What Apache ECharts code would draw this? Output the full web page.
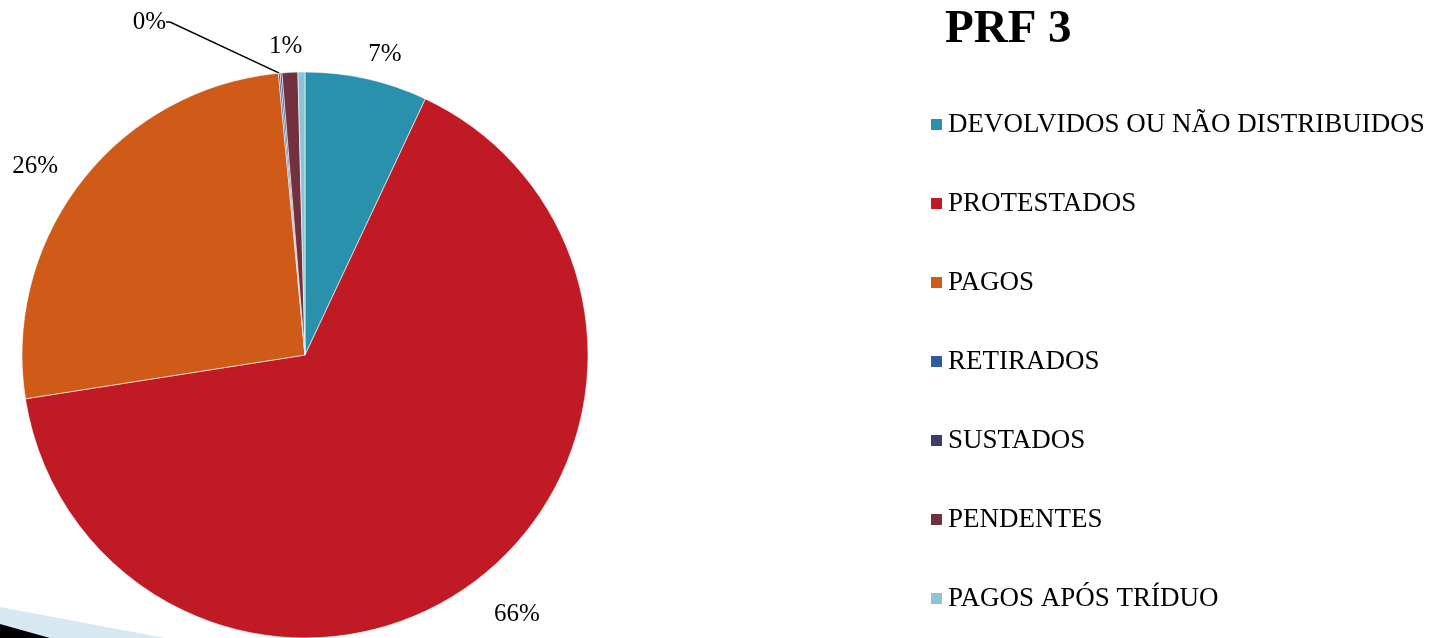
<!DOCTYPE html>
<html>
<head>
<meta charset="utf-8">
<script src="https://cdn.jsdelivr.net/npm/echarts@6/dist/echarts.min.js"></script>
<style>
html,body{margin:0;padding:0;background:#fff;}
#chart{width:1439px;height:638px;}
</style>
</head>
<body>
<div id="chart"></div>
<script>
// categories and shares (%)
var categories = ['DEVOLVIDOS OU NÃO DISTRIBUIDOS', 'PROTESTADOS', 'PAGOS', 'RETIRADOS', 'SUSTADOS', 'PENDENTES', 'PAGOS APÓS TRÍDUO'];
var shares = [7.0, 65.6, 26.0, 0.1, 0.1, 0.9, 0.4];
var colors = ['#2A91AC', '#C01A24', '#D05A17', '#2F5C9C', '#3A3D6A', '#71313F', '#8EC2D6'];
// which slices carry a label in the original
var showLabel = [true, true, true, true, false, true, false];
// small nudges so the labels sit where the original puts them
var labelShift = [[-10, -13], [3, 23], [-5, -8], [0, 0], [0, 0], [22, -14], [0, 0]];

var font = '"Liberation Serif", "Times New Roman", serif';
var chart = echarts.init(document.getElementById('chart'));

var pieData = categories.map(function (name, i) {
  var item = {
    name: name,
    value: shares[i],
    itemStyle: {color: colors[i]},
    label: {show: showLabel[i]},
    labelLine: {show: false}
  };
  if (i === 3) {
    item.labelLine = {show: true, lineStyle: {color: '#000', width: 1.5}};
  }
  return item;
});

chart.setOption({
  animation: false,
  title: {
    text: 'PRF 3',
    left: 940,
    top: 1,
    textStyle: {fontFamily: font, fontSize: 47, fontWeight: 'bold', color: '#000'}
  },
  legend: {
    orient: 'vertical',
    left: 924,
    top: 106,
    itemWidth: 13,
    itemHeight: 13,
    itemGap: 52,
    icon: 'rect',
    data: categories,
    textStyle: {fontFamily: font, fontSize: 27, color: '#000', lineHeight: 27}
  },
  graphic: [
    {type: 'polygon', shape: {points: [[0, 607], [165, 638], [0, 638]]}, style: {fill: '#D6E8F0'}},
    {type: 'polygon', shape: {points: [[0, 624], [50, 638], [0, 638]]}, style: {fill: '#000'}}
  ],
  series: [{
    type: 'pie',
    center: [305, 355],
    radius: 283,
    startAngle: 90,
    clockwise: true,
    avoidLabelOverlap: false,
    itemStyle: {borderColor: '#fff', borderWidth: 0.6},
    label: {
      position: 'outside',
      fontFamily: font,
      fontSize: 25,
      color: '#000',
      formatter: function (p) { return Math.round(p.value) + '%'; }
    },
    labelLine: {length: 12, length2: 4},
    labelLayout: function (p) {
      if (p.dataIndex === 3) {
        return {x: 166, y: 22, align: 'right', verticalAlign: 'middle'};
      }
      return {dx: labelShift[p.dataIndex][0], dy: labelShift[p.dataIndex][1]};
    },
    data: pieData
  }]
});
</script>
</body>
</html>
